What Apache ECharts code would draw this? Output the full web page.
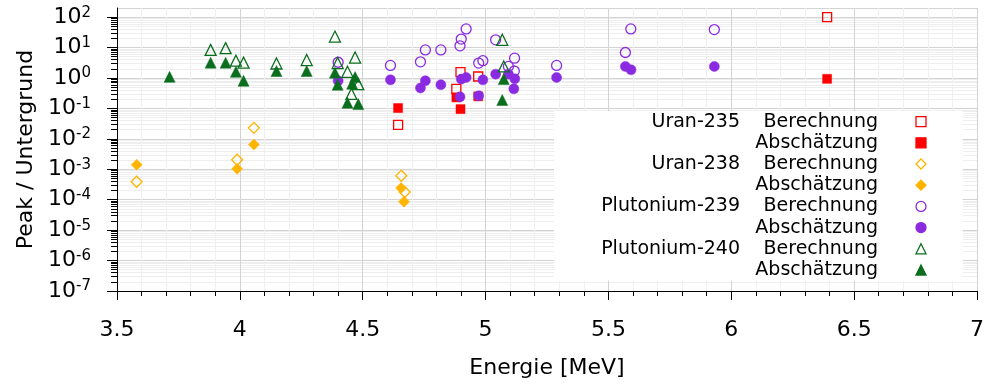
<!DOCTYPE html>
<html>
<head>
<meta charset="utf-8">
<script src="https://cdn.jsdelivr.net/npm/echarts@6/dist/echarts.min.js"></script>
<style>
  html, body { margin: 0; padding: 0; background: #fff; }
  #chart { width: 987px; height: 385px; }
</style>
</head>
<body>
<div id="chart"></div>
<script>
// Alpha lines: energy (MeV) and peak-to-background ratio, calculated ("Berechnung")
// and estimated ("Abschätzung") for each nuclide.
const u235CalcE = [4.644, 4.881, 4.898, 4.970, 6.390];
const u235CalcV = [0.029, 0.44, 1.56, 1.12, 100];
const u235EstE  = [4.644, 4.881, 4.898, 4.970, 6.390];
const u235EstV  = [0.103, 0.23, 0.095, 0.25, 0.94];

const u238CalcE = [3.580, 3.989, 4.057, 4.657, 4.671];
const u238CalcV = [3.9e-4, 2.06e-3, 0.023, 6.1e-4, 1.79e-4];
const u238EstE  = [3.580, 3.989, 4.057, 4.656, 4.668];
const u238EstV  = [1.41e-3, 1.04e-3, 6.5e-3, 2.42e-4, 8.6e-5];

const pu239CalcE = [4.400, 4.613, 4.735, 4.755, 4.818, 4.896, 4.901, 4.921, 4.972,
                    4.989, 5.041, 5.093, 5.117, 5.118, 5.289, 5.569, 5.591, 5.931];
const pu239CalcV = [3.3, 2.6, 3.4, 8.4, 8.4, 11.4, 19, 41, 3.1,
                    3.7, 18, 2.4, 1.7, 4.5, 2.6, 6.9, 41, 39];
const pu239EstE  = [4.400, 4.613, 4.735, 4.755, 4.818, 4.896, 4.901, 4.921, 4.972,
                    4.989, 5.041, 5.093, 5.115, 5.119, 5.289, 5.569, 5.592, 5.931];
const pu239EstV  = [0.81, 0.87, 0.47, 0.81, 0.60, 0.24, 0.92, 1.04, 0.26,
                    0.87, 1.34, 1.34, 0.44, 0.94, 1.04, 2.4, 1.86, 2.4];

const pu240CalcE = [3.881, 3.942, 3.984, 4.015, 4.149, 4.272, 4.387, 4.398, 4.438,
                    4.454, 4.469, 4.482, 5.068, 5.074];
const pu240CalcV = [8.4, 9.6, 3.7, 3.2, 3.0, 3.9, 23, 3.1, 1.6,
                    0.30, 4.7, 0.63, 18, 2.4];
const pu240EstE  = [3.714, 3.881, 3.942, 3.984, 4.015, 4.149, 4.272, 4.387, 4.398,
                    4.438, 4.457, 4.469, 4.482, 5.068, 5.074];
const pu240EstV  = [1.09, 3.2, 3.2, 1.6, 0.81, 1.7, 1.7, 1.5, 0.60,
                    0.153, 0.65, 1.07, 0.139, 0.19, 0.92];

const nuclides = ['Uran-235', 'Uran-238', 'Plutonium-239', 'Plutonium-240'];
const kinds = ['Berechnung', 'Abschätzung'];

// Axis ranges and tick settings
const xMin = 3.5, xMax = 7, xStep = 0.5;
const yMin = 1e-7, yMax = 200;
const decadeExponents = [-7, -6, -5, -4, -3, -2, -1, 0, 1, 2];

const FONT = 'DejaVu Sans';
const zip = (xs, ys) => xs.map((x, i) => [x, ys[i]]);

// minor log ticks: 2..9 times each decade
const minorLogValues = [];
decadeExponents.forEach(k => {
  for (let m = 2; m <= 9; m++) {
    const v = m * Math.pow(10, k);
    if (v < yMax) minorLogValues.push(v);
  }
});

const styles = [
  { color: '#ff0000', symbol: 'rect', size: 9 },
  { color: '#ffb400', symbol: 'diamond', size: 11 },
  { color: '#8a2be2', symbol: 'circle', size: 10 },
  { color: '#0b6e1e', symbol: 'triangle', size: 11 }
];

const seriesData = [
  [zip(u235CalcE, u235CalcV), zip(u235EstE, u235EstV)],
  [zip(u238CalcE, u238CalcV), zip(u238EstE, u238EstV)],
  [zip(pu239CalcE, pu239CalcV), zip(pu239EstE, pu239EstV)],
  [zip(pu240CalcE, pu240CalcV), zip(pu240EstE, pu240EstV)]
];

const series = [];
const legendNames = [];
nuclides.forEach((nuc, i) => {
  kinds.forEach((kind, j) => {
    const st = styles[i];
    const open = j === 0;
    const name = nuc + ' ' + kind;
    legendNames.push(name);
    series.push({
      name: name,
      type: 'scatter',
      xAxisIndex: 0,
      yAxisIndex: 0,
      symbol: st.symbol,
      symbolSize: st.size,
      data: seriesData[i][j],
      itemStyle: {
        color: open ? 'rgba(255,255,255,0)' : st.color,
        borderColor: st.color,
        borderWidth: open ? 1.3 : 0.5,
        opacity: 1
      },
      emphasis: { disabled: true }
    });
  });
});

const chart = echarts.init(document.getElementById('chart'), null, { renderer: 'canvas' });

chart.setOption({
  animation: false,
  backgroundColor: '#fff',
  textStyle: { fontFamily: FONT },
  grid: { left: 117, right: 9, top: 8, bottom: 94, containLabel: false },
  xAxis: {
    type: 'value',
    min: xMin, max: xMax, interval: xStep,
    name: 'Energie [MeV]',
    nameLocation: 'middle',
    nameGap: 66,
    nameTextStyle: { fontSize: 22, color: '#000', fontFamily: FONT },
    axisLine: { onZero: false, lineStyle: { color: '#000', width: 1 } },
    axisTick: { show: true, length: 9, lineStyle: { color: '#000' } },
    minorTick: { show: true, splitNumber: 5, length: 5, lineStyle: { color: '#000' } },
    axisLabel: { fontSize: 22, color: '#000', margin: 28, fontFamily: FONT },
    splitLine: { show: true, lineStyle: { color: '#d3d3d3', width: 1 } },
    minorSplitLine: { show: true, lineStyle: { color: '#f0f0f0', width: 1 } }
  },
  yAxis: [
    {
      type: 'log', logBase: 10,
      min: yMin, max: yMax,
      splitNumber: 9, interval: 1,
      name: 'Peak / Untergrund',
      nameLocation: 'middle',
      nameGap: 78,
      nameTextStyle: { fontSize: 22, color: '#000', fontFamily: FONT },
      axisLine: { show: true, lineStyle: { color: '#000', width: 1 } },
      axisTick: { show: true, length: 10, lineStyle: { color: '#000' } },
      axisLabel: {
        margin: 26,
        showMaxLabel: false,
        formatter: v => {
          const e = Math.round(Math.log10(v));
          return '{b|10}{s|' + e + '}';
        },
        rich: {
          b: { fontSize: 22, color: '#000', fontFamily: FONT, lineHeight: 24 },
          s: { fontSize: 15, color: '#000', fontFamily: FONT, verticalAlign: 'top', lineHeight: 14 }
        }
      },
      splitLine: { show: true, lineStyle: { color: '#d3d3d3', width: 1 } }
    },
    {
      type: 'log', logBase: 10,
      min: yMin, max: yMax,
      position: 'left',
      axisLine: { show: false },
      axisTick: { show: true, length: 6, customValues: minorLogValues, lineStyle: { color: '#000' } },
      axisLabel: { show: false },
      splitLine: { show: true, lineStyle: { color: '#eeeeee', width: 1 } }
    }
  ],
  legend: {
    data: legendNames,
    orient: 'vertical',
    left: 554,
    top: 111,
    align: 'right',
    padding: [0, 36, 0, 6],
    itemGap: 0,
    itemWidth: 10,
    itemHeight: 10,
    selectedMode: false,
    backgroundColor: '#fff',
    itemStyle: { borderWidth: 1.3 },
    formatter: name => {
      const cut = name.lastIndexOf(' ');
      const nuc = name.slice(0, cut);
      const kind = name.slice(cut + 1);
      const left = kind === 'Abschätzung' ? '\u00a0' : nuc;
      return '{a|' + left + '}{b|' + kind + '}{s|\u00a0}';
    },
    textStyle: {
      color: '#000',
      fontSize: 19,
      fontFamily: FONT,
      lineHeight: 21.2,
      rich: {
        a: { width: 180, align: 'right', fontSize: 19, color: '#000', fontFamily: FONT, lineHeight: 21.2 },
        b: { width: 138, align: 'right', fontSize: 19, color: '#000', fontFamily: FONT, lineHeight: 21.2 },
        s: { width: 33, fontSize: 19, lineHeight: 21.2 }
      }
    }
  },
  series: series
});
</script>
</body>
</html>
